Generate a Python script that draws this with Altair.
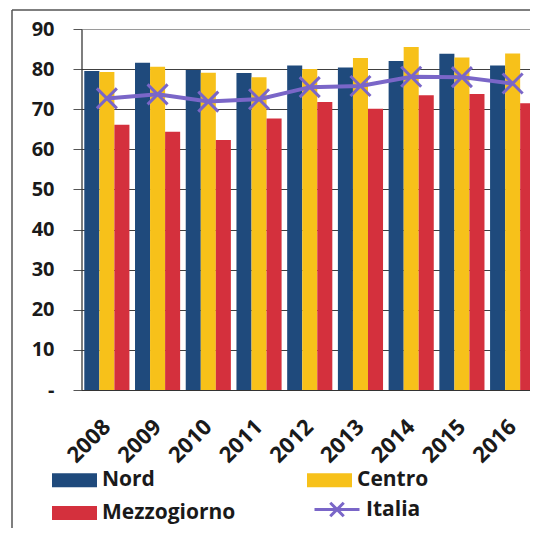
import altair as alt
import pandas as pd

# ---- data ----
years = ["2008", "2009", "2010", "2011", "2012", "2013", "2014", "2015", "2016"]
nord = [79.5, 81.6, 79.8, 79.0, 80.9, 80.4, 82.0, 83.8, 80.9]
centro = [79.3, 80.6, 79.1, 78.0, 80.0, 82.8, 85.5, 82.9, 83.9]
mezzogiorno = [66.1, 64.4, 62.3, 67.7, 71.8, 70.1, 73.5, 73.8, 71.5]
italia = [72.7, 73.7, 71.9, 72.5, 75.5, 75.8, 78.1, 78.0, 76.4]

bar_series = ["Nord", "Centro", "Mezzogiorno"]
bar_colors = ["#1F4A7C", "#F7C11A", "#D4303D"]
line_series = ["Italia"]
line_colors = ["#7A66C8"]
y_ticks = [0, 10, 20, 30, 40, 50, 60, 70, 80, 90]

bars_df = pd.DataFrame(
    [{"year": y, "series": s, "value": v}
     for s, vals in zip(bar_series, [nord, centro, mezzogiorno])
     for y, v in zip(years, vals)]
)
line_df = pd.DataFrame({"year": years, "series": "Italia", "value": italia})
frame_df = pd.DataFrame({"k": [0]})

FONT = "Open Sans"
TXT = "#1a1a1a"
W, H = 456.5, 361

x_scale = alt.Scale(domain=years, paddingInner=0.11, paddingOuter=0.055)
y_scale = alt.Scale(domain=[0, 90], nice=False)

fill_legend = alt.Legend(
    title=None, orient="none", legendX=-29.5, legendY=428.5, columns=2,
    direction="horizontal",
    symbolType="M-1,-0.31L1,-0.31L1,0.31L-1,0.31Z", symbolSize=2025,
    symbolStrokeWidth=0, labelFont=FONT, labelFontSize=21, labelFontWeight="bold",
    labelColor=TXT, labelOffset=5, columnPadding=71, rowPadding=-9.5, labelLimit=0,
)
stroke_legend = alt.Legend(
    title=None, orient="none", legendX=231.5, legendY=456.5,
    symbolType="M-1,0L1,0M-0.3,-0.3L0.3,0.3M-0.3,0.3L0.3,-0.3", symbolSize=2025,
    symbolStrokeWidth=3, labelFont=FONT, labelFontSize=21, labelFontWeight="bold",
    labelColor=TXT, labelOffset=5, labelLimit=0,
)

bars = alt.Chart(bars_df).mark_bar().encode(
    x=alt.X("year:N", scale=x_scale, sort=years, title=None,
            axis=alt.Axis(labelAngle=315, labelAlign="right", labelBaseline="middle",
                          ticks=False, labelPadding=33, domainColor="#333333",
                          domainWidth=1.2, labelFont=FONT, labelFontSize=22,
                          labelFontWeight="bold", labelColor=TXT, grid=False)),
    xOffset=alt.XOffset("series:N", sort=bar_series,
                        scale=alt.Scale(domain=bar_series, paddingInner=0, paddingOuter=0)),
    y=alt.Y("value:Q", scale=y_scale, title=None,
            axis=alt.Axis(values=y_ticks,
                          labelExpr="datum.value === 0 ? '-' : datum.label",
                          domainColor="#333333", domainWidth=1.2, tickColor="#555555",
                          tickSize=8.5, labelPadding=19, labelFont=FONT, labelFontSize=20,
                          labelFontWeight="bold", labelColor=TXT, grid=True, gridWidth=1,
                          gridColor={"condition": {"test": "datum.value === 90", "value": "#9a9a9a"},
                                     "value": "#404040"})),
    fill=alt.Fill("series:N", sort=bar_series,
                  scale=alt.Scale(domain=bar_series, range=bar_colors), legend=fill_legend),
)

line = alt.Chart(line_df).mark_line(strokeWidth=4).encode(
    x=alt.X("year:N", scale=x_scale, sort=years, title=None),
    y=alt.Y("value:Q", scale=y_scale, title=None),
    stroke=alt.Stroke("series:N", scale=alt.Scale(domain=line_series, range=line_colors),
                      legend=stroke_legend),
)
points = alt.Chart(line_df).mark_point(
    shape="M-1,-1L1,1M-1,1L1,-1", size=400, strokeWidth=3, filled=False, opacity=1
).encode(
    x=alt.X("year:N", scale=x_scale, sort=years, title=None),
    y=alt.Y("value:Q", scale=y_scale, title=None),
    stroke=alt.Stroke("series:N", scale=alt.Scale(domain=line_series, range=line_colors),
                      legend=stroke_legend),
)

frame_top = alt.Chart(frame_df).mark_rule(color="#555555", strokeWidth=1.5).encode(
    x=alt.value(-69.5), x2=alt.value(W + 20), y=alt.value(-19)
)
frame_left = alt.Chart(frame_df).mark_rule(color="#555555", strokeWidth=1.5).encode(
    x=alt.value(-69.5), y=alt.value(-19), y2=alt.value(H + 160)
)

chart = alt.layer(frame_top, frame_left, bars, line, points).properties(
    width=W, height=H, autosize="none",
    padding={"left": 73.5, "top": 21, "right": -8, "bottom": 138},
).configure_view(strokeWidth=0).configure(background="white")

chart.save("out.html", embed_options={"renderer": "svg", "actions": False})
